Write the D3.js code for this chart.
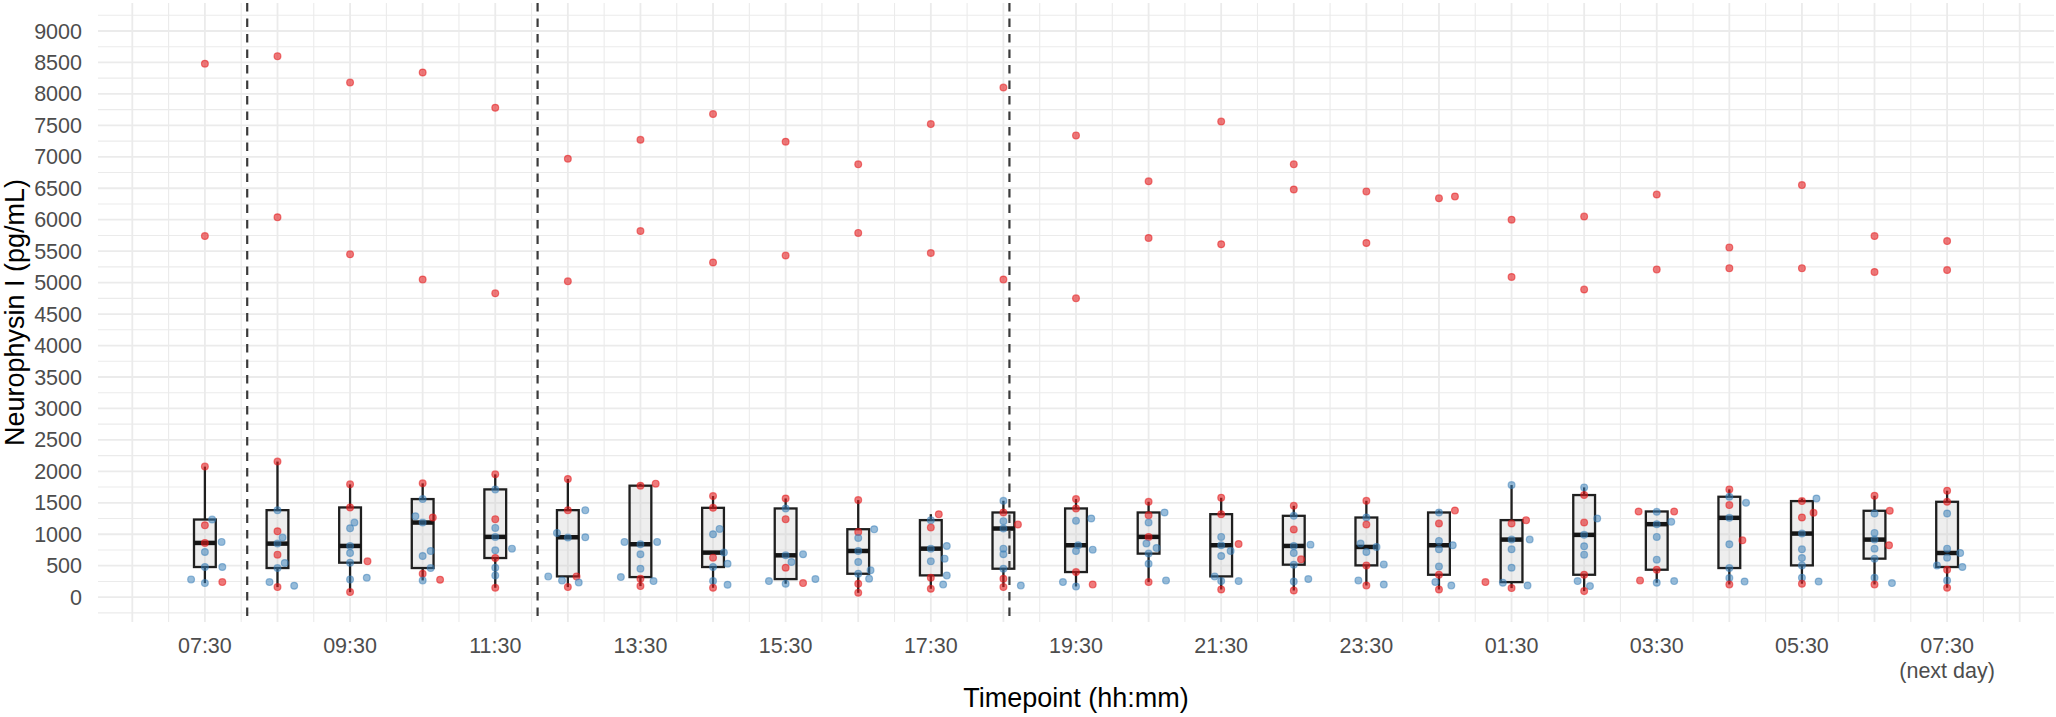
<!DOCTYPE html>
<html>
<head>
<meta charset="utf-8">
<script src="https://cdn.jsdelivr.net/npm/d3@7"></script>
<style>
  body { margin: 0; background: #fff; }
  svg { display: block; font-family: "Liberation Sans", Arial, Helvetica, sans-serif; }
</style>
</head>
<body>
<svg id="chart"></svg>
<script>
// timepoints (hours since midnight of day 1)
const timepoints = ['07:30', '08:30', '09:30', '10:30', '11:30', '12:30', '13:30', '14:30', '15:30',
  '16:30', '17:30', '18:30', '19:30', '20:30', '21:30', '22:30', '23:30', '00:30', '01:30', '02:30',
  '03:30', '04:30', '05:30', '06:30', '07:30'];
const hours = [7.5, 8.5, 9.5, 10.5, 11.5, 12.5, 13.5, 14.5, 15.5, 16.5, 17.5, 18.5, 19.5, 20.5,
  21.5, 22.5, 23.5, 24.5, 25.5, 26.5, 27.5, 28.5, 29.5, 30.5, 31.5];

const tickHours = [7.5, 9.5, 11.5, 13.5, 15.5, 17.5, 19.5, 21.5, 23.5, 25.5, 27.5, 29.5, 31.5];
const tickLabels = ['07:30', '09:30', '11:30', '13:30', '15:30', '17:30', '19:30', '21:30', '23:30',
  '01:30', '03:30', '05:30', '07:30\n(next day)'];
const yTicks = [0, 500, 1000, 1500, 2000, 2500, 3000, 3500, 4000, 4500, 5000, 5500, 6000, 6500,
  7000, 7500, 8000, 8500, 9000];

// meal times (dashed lines): 08:05, 12:05, 18:35
const mealHours = [8.083, 12.083, 18.583];

// Neurophysin I, pg/mL, one row per timepoint
const conc = [
  [2075, 1234, 1144, 862, 878, 718, 479, 479, 282, 223, 239, 8480, 5740],
  [2155, 1383, 1048, 947, 851, 676, 543, 463, 239, 160, 181, 8600, 6040],
  [1793, 1426, 1186, 1096, 814, 702, 569, 548, 282, 309, 80, 8180, 5450],
  [1809, 1559, 1287, 1266, 1186, 734, 654, 463, 372, 266, 277, 8340, 5050],
  [1952, 1713, 1240, 1101, 958, 771, 745, 622, 468, 346, 149, 7780, 4830],
  [1878, 1383, 1383, 1021, 947, 952, 330, 330, 266, 234, 160, 6970, 5020],
  [1772, 1804, 878, 878, 841, 681, 452, 319, 293, 255, 176, 7270, 5820],
  [1607, 1420, 1085, 1000, 708, 628, 532, 479, 255, 197, 149, 7680, 5320],
  [1569, 1410, 1240, 681, 665, 559, 468, 255, 213, 223, 287, 7240, 5430],
  [1543, 1037, 1080, 942, 734, 559, 426, 372, 293, 213, 69, 6880, 5790],
  [1224, 1319, 1106, 814, 771, 612, 569, 346, 309, 202, 133, 7520, 5470],
  [1532, 1346, 1154, 1208, 1091, 771, 681, 452, 293, 160, 186, 8100, 5050],
  [1559, 1410, 1213, 1250, 825, 734, 755, 399, 239, 170, 202, 7340, 4750],
  [1516, 1303, 1346, 1186, 958, 851, 782, 692, 532, 239, 266, 6610, 5710],
  [1580, 1319, 846, 958, 825, 734, 654, 330, 255, 255, 122, 7560, 5610],
  [1452, 1293, 1075, 835, 814, 702, 601, 516, 250, 287, 106, 6880, 6480],
  [1532, 1266, 1154, 851, 798, 718, 505, 521, 266, 186, 202, 6450, 5630],
  [1346, 1378, 1170, 894, 761, 825, 489, 356, 239, 186, 122, 6340, 6370],
  [1782, 1170, 1224, 915, 915, 761, 468, 239, 229, 186, 144, 6000, 5090],
  [1745, 1623, 1250, 1186, 990, 809, 676, 356, 255, 176, 96, 6050, 4890],
  [1362, 1362, 1357, 1197, 1160, 958, 596, 436, 266, 229, 255, 6400, 5210],
  [1713, 1596, 1463, 1500, 1261, 841, 904, 463, 303, 202, 250, 5560, 5230],
  [1527, 1569, 1341, 1266, 1011, 761, 622, 505, 309, 250, 213, 6550, 5230],
  [1612, 1330, 1373, 1021, 915, 771, 825, 612, 309, 223, 202, 5740, 5170],
  [1692, 1516, 1330, 771, 702, 628, 505, 479, 436, 266, 149, 5660, 5200]
];

// horizontal jitter of each point, in hours
const jitter = [
  [0, 0.10, 0, 0, 0.23, 0, 0.24, 0, -0.19, 0, 0.24, 0, 0],
  [0, 0, 0, 0.07, 0, 0, 0.10, 0, -0.11, 0, 0.23, 0, 0],
  [0, 0, 0.06, 0, 0, 0, 0.24, 0, 0, 0.23, 0, 0, 0],
  [0, 0, -0.10, 0.14, 0, 0.11, 0, 0.11, 0, 0, 0.24, 0, 0],
  [0, 0, 0, 0, 0, 0.23, 0, 0, 0, 0, 0, 0, 0],
  [0, 0, 0.24, -0.15, 0, 0.24, -0.27, 0.12, -0.08, 0.15, 0, 0, 0],
  [0, 0.21, -0.22, 0.23, 0, 0, 0, -0.27, 0, 0.18, 0, 0, 0],
  [0, 0, 0.09, 0, 0.15, 0, 0.20, 0, 0, 0.20, 0, 0, 0],
  [0, 0, 0, 0.24, 0, 0.08, 0, -0.23, 0, 0.24, 0.41, 0, 0],
  [0, 0, 0.22, 0, 0, 0, 0.17, 0, 0.15, 0, 0, 0, 0],
  [0, 0.11, 0, 0.22, 0, 0.19, 0, 0.22, 0, 0.17, 0, 0, 0],
  [0, 0, 0.20, 0, 0, 0, 0, 0, 0, 0, 0.24, 0, 0],
  [0, 0, 0, 0.21, 0.03, 0, 0.23, 0, -0.18, 0, 0.23, 0, 0],
  [0, 0, 0.22, 0, 0, -0.03, 0.11, 0, 0, 0, 0.24, 0, 0],
  [0, 0, 0.24, 0, 0, 0.13, 0, -0.09, 0, 0.24, 0, 0, 0],
  [0, 0, 0, 0.23, 0, 0, 0.10, 0, 0, 0.20, 0, 0, 0],
  [0, 0, 0, -0.08, 0.14, 0, 0, 0.24, -0.11, 0, 0.24, 0, 0],
  [0, 0.22, 0, 0, 0, 0.19, 0, 0, -0.05, 0.17, 0, 0, 0.22],
  [0, 0, 0.20, 0.25, 0, 0, 0, -0.36, -0.12, 0.22, 0, 0, 0],
  [0, 0, 0.18, 0, 0, 0, 0, 0, -0.09, 0.08, 0, 0, 0],
  [-0.25, 0.24, 0, 0.20, 0, 0, 0, 0, -0.23, 0, 0.24, 0, 0],
  [0, 0, 0, 0.23, 0, 0, 0.18, 0, 0, 0, 0.21, 0, 0],
  [0, 0.20, 0.16, 0, 0, 0, 0, 0, 0, 0.23, 0, 0, 0],
  [0, 0, 0.21, 0, 0, 0, 0.20, 0, 0, 0.24, 0, 0, 0],
  [0, 0, 0, 0, 0.18, 0, -0.14, 0.21, 0, 0, 0, 0, 0]
];

// group of each point: r = red group, b = blue group
const group = [
  'rbrrbbbbbbrrr', 'rbrbbrbbbrbrr', 'rrbbbbrbbbrrr', 'rbbrbbbbrbrrr', 'rbrbbbbrbbrrr',
  'rrbbbbbrbbrrr', 'rrbbbbbbrbrrr', 'rrbbbrbbbbrrr', 'rbrbbbrbbrbrr', 'rrbbbbbbbrrrr',
  'brrbbbbbrbrrr', 'brrbbbbbrrbrr', 'rrbbbbbrbbrrr', 'rrbbrbbbbrbrr', 'rrrbbbbbbbrrr',
  'rbrbbbrbbbrrr', 'rbrbbbrbbrbrr', 'brrbbbbrbbrrr', 'brrbbbbrbbrrr', 'brbrbbbrbbrrr',
  'rrbbbbbrrbbrr', 'rbrbbbrbbrbrr', 'rbrrbbbbbbrrr', 'rbrbbbrbbbrrr', 'rrbbbbbbrbrrr'
];

const groupColors = { r: '#e41a1c', b: '#377eb8' };

const W = 2056, H = 717;
const panel = { left: 96, right: 2056, top: 3, bottom: 622 };

const svg = d3.select('#chart').attr('width', W).attr('height', H);

const x = d3.scaleLinear().domain([6, 33]).range([panel.left, panel.right]);
const y = d3.scaleLinear().domain([-395, 9445]).range([panel.bottom, panel.top]);

// grid
const grid = svg.append('g');
grid.selectAll('.hmin')
  .data(d3.range(-250, 9500, 500))
  .join('line')
  .attr('x1', panel.left + 2).attr('x2', panel.right - 2)
  .attr('y1', d => y(d)).attr('y2', d => y(d))
  .attr('stroke', '#ebebeb').attr('stroke-width', 1.1);
grid.selectAll('.vmin')
  .data(d3.range(7, 33, 1))
  .join('line')
  .attr('x1', d => x(d)).attr('x2', d => x(d))
  .attr('y1', panel.top).attr('y2', panel.bottom)
  .attr('stroke', '#ebebeb').attr('stroke-width', 1.1);
grid.selectAll('.hmaj')
  .data(yTicks)
  .join('line')
  .attr('x1', panel.left + 2).attr('x2', panel.right - 2)
  .attr('y1', d => y(d)).attr('y2', d => y(d))
  .attr('stroke', '#ebebeb').attr('stroke-width', 1.8);
grid.selectAll('.vmaj')
  .data(d3.range(6.5, 33, 1))
  .join('line')
  .attr('x1', d => x(d)).attr('x2', d => x(d))
  .attr('y1', panel.top).attr('y2', panel.bottom)
  .attr('stroke', '#ebebeb').attr('stroke-width', 1.8);

// boxplot stats (R type 7 quantiles, whiskers at 1.5 IQR)
const stats = conc.map((vals, i) => {
  const s = vals.slice().sort(d3.ascending);
  const q1 = d3.quantile(s, 0.25);
  const med = d3.quantile(s, 0.5);
  const q3 = d3.quantile(s, 0.75);
  const iqr = q3 - q1;
  const lo = d3.min(s.filter(v => v >= q1 - 1.5 * iqr));
  const hi = d3.max(s.filter(v => v <= q3 + 1.5 * iqr));
  return { h: hours[i], q1, med, q3, lo, hi };
});

const halfW = 0.15;
const boxes = svg.append('g').selectAll('g').data(stats).join('g');
boxes.append('line')
  .attr('x1', d => x(d.h)).attr('x2', d => x(d.h))
  .attr('y1', d => y(d.hi)).attr('y2', d => y(d.q3))
  .attr('stroke', '#1f1f1f').attr('stroke-width', 2.3);
boxes.append('line')
  .attr('x1', d => x(d.h)).attr('x2', d => x(d.h))
  .attr('y1', d => y(d.q1)).attr('y2', d => y(d.lo))
  .attr('stroke', '#1f1f1f').attr('stroke-width', 2.3);
boxes.append('rect')
  .attr('x', d => x(d.h - halfW))
  .attr('width', d => x(d.h + halfW) - x(d.h - halfW))
  .attr('y', d => y(d.q3))
  .attr('height', d => y(d.q1) - y(d.q3))
  .attr('fill', 'rgba(200,200,200,0.3)')
  .attr('stroke', '#1f1f1f').attr('stroke-width', 2.3);
boxes.append('line')
  .attr('x1', d => x(d.h - halfW)).attr('x2', d => x(d.h + halfW))
  .attr('y1', d => y(d.med)).attr('y2', d => y(d.med))
  .attr('stroke', '#151515').attr('stroke-width', 4.5);

// meal lines
svg.append('g').selectAll('line')
  .data(mealHours)
  .join('line')
  .attr('x1', d => x(d)).attr('x2', d => x(d))
  .attr('y1', panel.top).attr('y2', panel.bottom)
  .attr('stroke', '#3a3a3a').attr('stroke-width', 2.2)
  .attr('stroke-dasharray', '8.5,7');

// points
const pts = [];
conc.forEach((vals, i) => {
  vals.forEach((v, j) => {
    pts.push({ h: hours[i] + jitter[i][j], v, g: group[i][j] });
  });
});
svg.append('g').selectAll('circle')
  .data(pts)
  .join('circle')
  .attr('cx', d => x(d.h))
  .attr('cy', d => y(d.v))
  .attr('r', 3.4)
  .attr('fill', d => groupColors[d.g])
  .attr('fill-opacity', d => d.g === 'r' ? 0.58 : 0.52)
  .attr('stroke', d => groupColors[d.g])
  .attr('stroke-opacity', d => d.g === 'r' ? 0.55 : 0.5)
  .attr('stroke-width', 1.2);

// y tick labels
svg.append('g').selectAll('text')
  .data(yTicks)
  .join('text')
  .attr('x', 82)
  .attr('y', d => y(d) + 7.6)
  .attr('text-anchor', 'end')
  .attr('font-size', 21.5)
  .attr('fill', '#4d4d4d')
  .text(d => d);

// x tick labels
const xl = svg.append('g').selectAll('text')
  .data(tickHours)
  .join('text')
  .attr('x', d => x(d))
  .attr('y', 653)
  .attr('text-anchor', 'middle')
  .attr('font-size', 21.5)
  .attr('fill', '#4d4d4d');
xl.each(function (d, i) {
  const lines = tickLabels[i].split('\n');
  d3.select(this).selectAll('tspan')
    .data(lines)
    .join('tspan')
    .attr('x', x(d))
    .attr('dy', (l, k) => k === 0 ? 0 : 25)
    .text(l => l);
});

// axis titles
svg.append('text')
  .attr('x', (panel.left + panel.right) / 2)
  .attr('y', 707)
  .attr('text-anchor', 'middle')
  .attr('font-size', 27)
  .attr('fill', '#000')
  .text('Timepoint (hh:mm)');

svg.append('text')
  .attr('transform', `translate(24,${(panel.top + panel.bottom) / 2}) rotate(-90)`)
  .attr('text-anchor', 'middle')
  .attr('font-size', 27)
  .attr('fill', '#000')
  .text('Neurophysin I (pg/mL)');
</script>
</body>
</html>
